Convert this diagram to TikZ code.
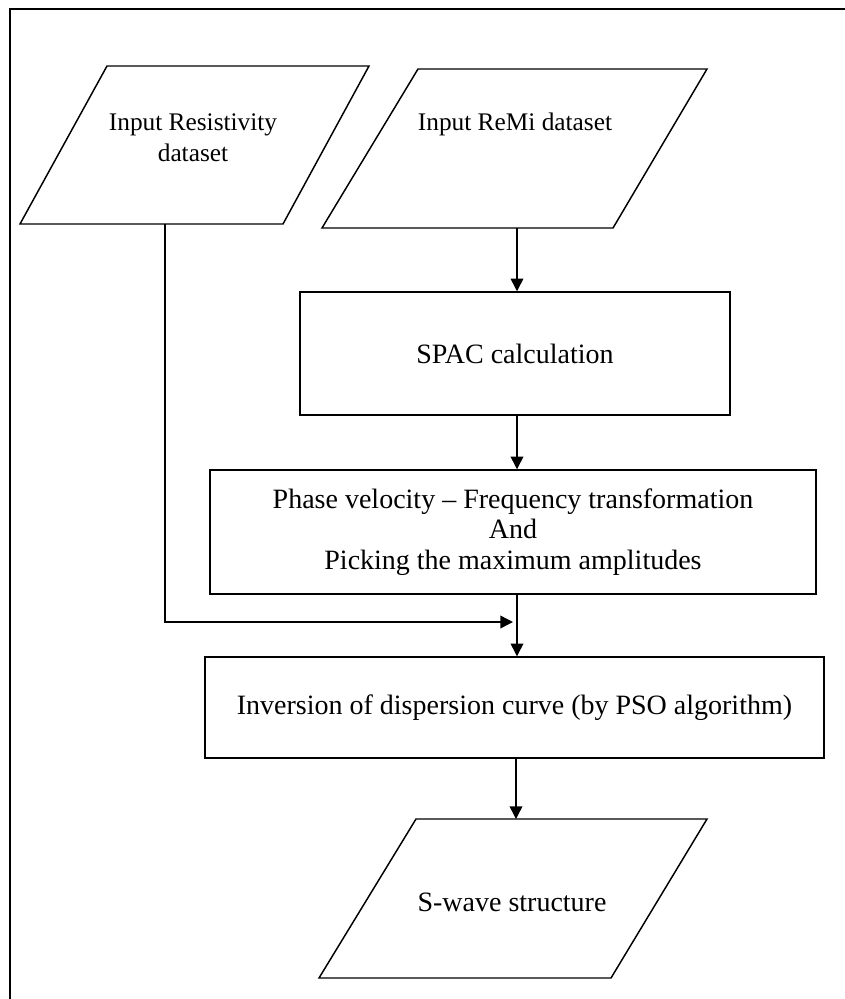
\documentclass[tikz,border=0pt]{standalone}
\usepackage{fontspec}
\setmainfont{Liberation Serif}
\usetikzlibrary{arrows.meta}
\begin{document}
\begin{tikzpicture}[x=0.75pt,y=-0.75pt,
  line width=1.1pt,
  boxnode/.style={draw, rectangle, inner sep=0pt, align=center, font=\fontsize{21}{23}\selectfont},
  lbl/.style={inner sep=0pt, align=center, font=\fontsize{21}{23}\selectfont},
  toplbl/.style={inner sep=0pt, align=center, font=\fontsize{19}{23}\selectfont},
  flow/.style={-{Triangle[width=9.5pt,length=9.5pt]}},
  para/.style={draw, line join=miter}
]
\useasboundingbox (0,0) rectangle (845,999);
% frame
\draw[line width=1.3pt] (10,999) -- (10,9) -- (845,9);

% parallelograms (input / output)
\draw[para] (107,66) -- (369,66) -- (283,224) -- (20,224) -- cycle;
\draw[para] (418,69) -- (707,69) -- (613,228) -- (322,228) -- cycle;
\draw[para] (416,819) -- (707,819) -- (611,978) -- (319,978) -- cycle;

\node[toplbl] (resist) at (193,137.5) {Input Resistivity\\dataset};
\node[toplbl] (remi) at (515,124) {Input ReMi dataset};
\node[lbl] (swave) at (512,902) {S-wave structure};

% process boxes
\node[boxnode, minimum width=322.5pt, minimum height=92.25pt] (spac) at (515,353.5) {SPAC calculation};
\node[boxnode, minimum width=454.5pt, minimum height=93pt] (phase) at (513,532)
  {Phase velocity -- Frequency transformation\\And\\Picking the maximum amplitudes};
\node[boxnode, minimum width=464.25pt, minimum height=75.75pt] (inv) at (514.5,707.5)
  {Inversion of dispersion curve (by PSO algorithm)};

% connection points
\coordinate (p1b) at (165,224);
\coordinate (p2b) at (517,228);
\coordinate (p3t) at (516,819);
\coordinate (bend) at (165,622);
\coordinate (join) at (513,622);

% connectors
\draw[flow] (p2b) -- (spac.north -| p2b);
\draw[flow] (spac.south -| p2b) -- (phase.north -| p2b);
\draw[flow] (phase.south -| p2b) -- (inv.north -| p2b);
\draw[flow] (p1b) -- (bend) -- (join);
\draw[flow] (inv.south -| p3t) -- (p3t);
\end{tikzpicture}
\end{document}
